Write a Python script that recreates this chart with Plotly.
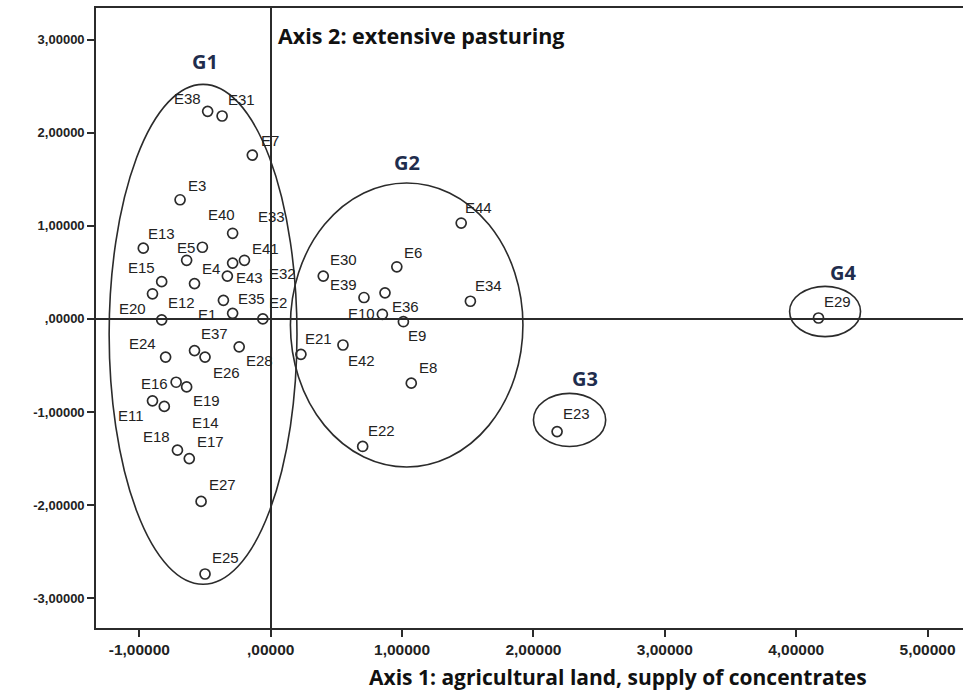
import plotly.graph_objects as go

# case labels and factor scores (axis 1, axis 2)
case_labels = [
    "E38", "E31", "E7", "E3", "E40", "E33", "E41", "E13", "E5", "E32",
    "E15", "E4", "E43", "E12", "E35", "E1", "E20", "E2", "E28", "E37",
    "E26", "E24", "E16", "E19", "E11", "E14", "E18", "E17", "E27", "E25",
    "E44", "E30", "E6", "E39", "E34", "E36", "E10", "E9", "E21", "E42",
    "E8", "E22", "E23", "E29",
]
axis1_scores = [
    -0.48, -0.37, -0.14, -0.69, -0.29, -0.20, -0.29, -0.97, -0.52, -0.64,
    -0.83, -0.58, -0.33, -0.90, -0.36, -0.29, -0.83, -0.06, -0.24, -0.58,
    -0.50, -0.80, -0.72, -0.64, -0.90, -0.81, -0.71, -0.62, -0.53, -0.50,
    1.45, 0.40, 0.96, 0.71, 1.52, 0.87, 0.85, 1.01, 0.23, 0.55,
    1.07, 0.70, 2.18, 4.17,
]
axis2_scores = [
    2.23, 2.18, 1.76, 1.28, 0.92, 0.63, 0.60, 0.76, 0.77, 0.63,
    0.40, 0.38, 0.46, 0.27, 0.20, 0.06, -0.01, 0.00, -0.30, -0.34,
    -0.41, -0.41, -0.68, -0.73, -0.88, -0.94, -1.41, -1.50, -1.96, -2.74,
    1.03, 0.46, 0.56, 0.23, 0.19, 0.28, 0.05, -0.03, -0.38, -0.28,
    -0.69, -1.37, -1.21, 0.01,
]

# group ellipses
group_names = ["G1", "G2", "G3", "G4"]
ellipse_x0 = [-1.23, 0.15, 2.00, 3.95]
ellipse_x1 = [0.20, 1.92, 2.55, 4.49]
ellipse_y0 = [-2.85, -1.59, -1.37, -0.19]
ellipse_y1 = [2.52, 1.46, -0.80, 0.35]
group_label_x = [-0.50, 1.04, 2.39, 4.36]
group_label_y = [2.76, 1.68, -0.64, 0.50]

# tick labels
x_ticks = [-1, 0, 1, 2, 3, 4, 5]
x_ticktext = ["-1,00000", ",00000", "1,00000", "2,00000", "3,00000", "4,00000", "5,00000"]
y_ticks = [3, 2, 1, 0, -1, -2, -3]
y_ticktext = ["3,00000", "2,00000", "1,00000", ",00000", "-1,00000", "-2,00000", "-3,00000"]

# label offsets in pixels (dx, dy up) relative to each point
label_dx = [
    -20, 19, 18, 17, -11, 27, 33, 18, -16, 96,
    -20, 16, 22, 29, 28, -26, -29, 15, 20, 20,
    21, -23, -22, 20, -21, 41, -21, 21, 21, 20,
    17, 20, 16, -20, 18, 20, -21, 14, 18, 19,
    17, 19, 19, 19,
]
label_dy = [
    13, 16, 15, 14, 19, 44, 15, 15, 0, -13,
    14, 15, -1, -9, 2, -1, 11, 16, -14, 17,
    -15, 14, -1, -14, -15, -16, 14, 17, 17, 17,
    16, 17, 14, 13, 16, -14, 1, -14, 16, -15,
    16, 16, 18, 17,
]

ink = "#2b2b2b"

fig = go.Figure()
fig.add_trace(
    go.Scatter(
        x=axis1_scores,
        y=axis2_scores,
        mode="markers",
        marker=dict(symbol="circle-open", size=10, color=ink, line=dict(width=1.7)),
        showlegend=False,
    )
)

annotations = []
for lab, xv, yv, dx, dy in zip(case_labels, axis1_scores, axis2_scores, label_dx, label_dy):
    annotations.append(
        dict(
            x=xv, y=yv, text=lab, showarrow=False,
            xshift=dx, yshift=dy,
            font=dict(family="Liberation Sans", size=15, color="#222222"),
        )
    )

shapes = []
for name, x0, x1, y0, y1, gx, gy in zip(
    group_names, ellipse_x0, ellipse_x1, ellipse_y0, ellipse_y1, group_label_x, group_label_y
):
    shapes.append(
        dict(type="circle", xref="x", yref="y", x0=x0, x1=x1, y0=y0, y1=y1,
             line=dict(color=ink, width=1.6))
    )
    annotations.append(
        dict(x=gx, y=gy, text="<b>" + name + "</b>", showarrow=False,
             font=dict(family="Open Sans", size=20, color="#1f2d4d"))
    )

# axis titles
annotations.append(
    dict(xref="x", yref="paper", x=0, y=0.956, xanchor="left", yanchor="middle", xshift=5,
         text="<b>Axis 2: extensive pasturing</b>", showarrow=False,
         font=dict(family="Open Sans", size=21.5, color="#111111"))
)
annotations.append(
    dict(xref="paper", yref="paper", x=0.602, y=-0.079, xanchor="center", yanchor="middle",
         text="<b>Axis 1: agricultural land, supply of concentrates</b>", showarrow=False,
         font=dict(family="Open Sans", size=21, color="#111111"))
)

fig.update_layout(
    width=963,
    height=693,
    margin=dict(l=96, r=0, t=8, b=65),
    plot_bgcolor="white",
    paper_bgcolor="white",
    shapes=shapes,
    annotations=annotations,
)
fig.update_xaxes(
    range=[-1.33, 5.27],
    tickvals=x_ticks, ticktext=x_ticktext,
    tickfont=dict(family="Liberation Sans", size=15.5, color="#222222", weight="bold"),
    ticks="outside", ticklen=7, tickwidth=1.5, tickcolor=ink,
    showline=True, linecolor=ink, linewidth=1.6, mirror=True,
    showgrid=False,
    zeroline=True, zerolinecolor=ink, zerolinewidth=1.6,
)
fig.update_yaxes(
    range=[-3.32, 3.34],
    tickvals=y_ticks, ticktext=y_ticktext,
    tickfont=dict(family="Liberation Sans", size=13, color="#222222", weight="bold"),
    ticks="outside", ticklen=7, tickwidth=1.5, tickcolor=ink,
    showline=True, linecolor=ink, linewidth=1.6, mirror=False,
    showgrid=False,
    zeroline=True, zerolinecolor=ink, zerolinewidth=1.6,
)

fig.write_html(
    "out.html",
    config={"displayModeBar": False},
    post_script="document.body.style.margin='0px';document.body.style.overflow='hidden';",
)
